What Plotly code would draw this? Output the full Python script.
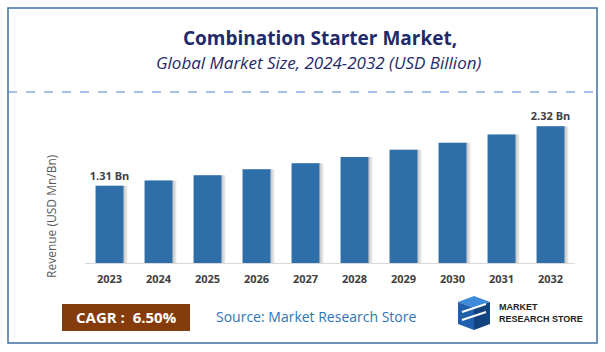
import plotly.graph_objects as go

years = ["2023", "2024", "2025", "2026", "2027", "2028", "2029", "2030", "2031", "2032"]
revenue = [1.31, 1.40, 1.49, 1.59, 1.69, 1.80, 1.92, 2.04, 2.18, 2.32]
label_years = {"2023", "2032"}
cagr_text = "CAGR :  6.50%"
title = "Combination Starter Market,"
subtitle = "Global Market Size, 2024-2032 (USD Billion)"
source = "Source: Market Research Store"

W, H = 605, 352
L, R, T, B = 85, 30, 105, 89
pw, ph = W - L - R, H - T - B


def px(x):
    return (x - L) / pw


def py(y):
    return (H - B - y) / ph


labels = [f"{v:.2f} Bn" if y in label_years else "" for y, v in zip(years, revenue)]
bw = 0.57

fig = go.Figure()
fig.add_trace(go.Bar(x=years, y=revenue, width=bw, offset=-bw / 2 + 0.08,
                     marker=dict(color="rgba(0,0,0,0.10)", line=dict(width=0)),
                     hoverinfo="skip", showlegend=False))
fig.add_trace(go.Bar(x=years, y=revenue, width=bw, offset=-bw / 2 + 0.04,
                     marker=dict(color="rgba(0,0,0,0.10)", line=dict(width=0)),
                     hoverinfo="skip", showlegend=False))
fig.add_trace(go.Bar(x=years, y=revenue, width=bw, offset=-bw / 2,
                     marker=dict(color="#2E6EA9", line=dict(width=0)),
                     text=labels, textposition="outside", cliponaxis=False,
                     constraintext="none",
                     textfont=dict(family="Open Sans", size=11, color="#404040", weight="bold"),
                     showlegend=False))

fig.update_layout(
    width=W, height=H, margin=dict(l=L, r=R, t=T, b=B),
    paper_bgcolor="white", plot_bgcolor="white", barmode="overlay",
    font=dict(family="Open Sans"),
    xaxis=dict(showline=True, linecolor="#D9D9D9", linewidth=1, ticks="",
               ticklabelstandoff=6,
               tickfont=dict(size=11, color="#404040", weight="bold"), showgrid=False),
    yaxis=dict(range=[0, 2.68], visible=False),
)

shapes = [
    dict(type="rect", xref="paper", yref="paper", x0=px(8), x1=px(597), y0=py(8), y1=py(343),
         line=dict(color="#3F6FA3", width=1.5)),
    dict(type="line", xref="paper", yref="paper", x0=px(8), x1=px(597), y0=py(92), y1=py(92),
         line=dict(color="#4F83CC", width=1, dash="dash")),
    dict(type="rect", xref="paper", yref="paper", x0=px(62), x1=px(190), y0=py(304), y1=py(331),
         fillcolor="#843C0C", line=dict(width=0)),
]
# simplified logo icon
icon = [
    ("M 458 302 L 474 296 L 490 302 L 474 308 Z", "#3D8BD9"),
    ("M 458 302 L 474 308 L 474 330 L 458 324 Z", "#1F5FAE"),
    ("M 474 308 L 490 302 L 490 324 L 474 330 Z", "#12437F"),
]


def path_paper(d):
    out = []
    toks = d.split()
    i = 0
    while i < len(toks):
        t = toks[i]
        if t in ("M", "L"):
            x, y = float(toks[i + 1]), float(toks[i + 2])
            out.append(f"{t} {px(x):.4f} {py(y):.4f}")
            i += 3
        else:
            out.append(t)
            i += 1
    return " ".join(out)


for d, c in icon:
    shapes.append(dict(type="path", xref="paper", yref="paper", path=path_paper(d),
                       fillcolor=c, line=dict(width=0)))
shapes.append(dict(type="line", xref="paper", yref="paper", x0=px(462), x1=px(486),
                   y0=py(312), y1=py(304), line=dict(color="white", width=2)))
shapes.append(dict(type="line", xref="paper", yref="paper", x0=px(462), x1=px(486),
                   y0=py(320), y1=py(312), line=dict(color="white", width=2)))
fig.update_layout(shapes=shapes)

ann = [
    dict(text=f"<b>{title}</b>", x=px(320), y=py(38), font=dict(size=19, color="#1F2A6B")),
    dict(text=f"<i>{subtitle}</i>", x=px(318), y=py(62), font=dict(size=17, color="#1F2A6B")),
    dict(text="Revenue (USD Mn/Bn)", x=px(51), y=py(216), textangle=-90,
         font=dict(size=12, color="#595959")),
    dict(text=f"<b>{cagr_text}</b>", x=px(126), y=py(317), font=dict(size=15, color="white")),
    dict(text=source, x=px(316), y=py(316), font=dict(size=14, color="#2E75B6")),
    dict(text="<b>MARKET<br>RESEARCH STORE</b>", x=px(497), y=py(313), xanchor="left",
         align="left", font=dict(size=9, color="#222222", family="Liberation Sans Narrow, Arial Narrow, Liberation Sans")),
]
for a in ann:
    a.update(xref="paper", yref="paper", showarrow=False)
    a.setdefault("xanchor", "center")
    a.setdefault("yanchor", "middle")
fig.update_layout(annotations=ann)

fig.write_html("out.html")
